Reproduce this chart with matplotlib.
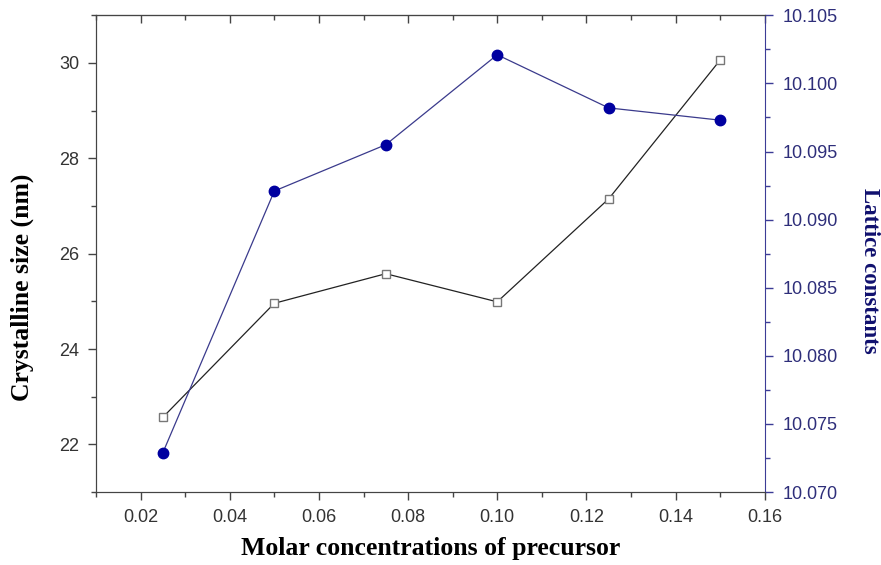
import matplotlib.pyplot as plt
from matplotlib.ticker import MultipleLocator, FormatStrFormatter

# data
conc = [0.025, 0.05, 0.075, 0.10, 0.125, 0.15]
cryst_size = [22.57, 24.96, 25.58, 24.99, 27.15, 30.06]
lattice = [10.0729, 10.0921, 10.0955, 10.1021, 10.0982, 10.0973]

blue = '#0000a0'
blue_axis = '#3c3c96'
tick_col = '#333333'

fig = plt.figure(figsize=(8.81, 5.65), dpi=100)
ax = fig.add_axes([0.109, 0.129, 0.759, 0.844])
ax2 = ax.twinx()

# crystalline size (left axis)
ax.plot(conc, cryst_size, color='#222222', lw=0.9, marker='s', ms=6,
        mfc='white', mec='#777777', mew=1.0, zorder=3)

# lattice constants (right axis)
ax2.plot(conc, lattice, color='#3a3a8c', lw=0.9, marker='o', ms=7.5,
         mfc=blue, mec=blue, zorder=3)

ax.set_xlim(0.01, 0.16)
ax.set_ylim(21, 31)
ax2.set_ylim(10.070, 10.105)

ax.xaxis.set_major_locator(MultipleLocator(0.02))
ax.xaxis.set_minor_locator(MultipleLocator(0.01))
ax.xaxis.set_major_formatter(FormatStrFormatter('%.2f'))
ax.yaxis.set_major_locator(MultipleLocator(2))
ax.yaxis.set_minor_locator(MultipleLocator(1))
ax2.yaxis.set_major_locator(MultipleLocator(0.005))
ax2.yaxis.set_minor_locator(MultipleLocator(0.0025))
ax2.yaxis.set_major_formatter(FormatStrFormatter('%.3f'))

tick_font = 'Liberation Sans'
ax.tick_params(axis='both', which='major', direction='out', length=6, width=1,
               color='#444444', labelsize=13, labelcolor=tick_col, pad=6)
ax.tick_params(axis='both', which='minor', direction='out', length=3.5, width=1,
               color='#444444')
ax2.tick_params(axis='y', which='major', direction='out', length=6, width=1,
                color=blue_axis, labelsize=13, labelcolor='#2e2e7a', pad=7)
ax2.tick_params(axis='y', which='minor', direction='out', length=3.5, width=1,
                color=blue_axis)
for lab in ax.get_xticklabels() + ax.get_yticklabels() + ax2.get_yticklabels():
    lab.set_fontfamily(tick_font)

# top spine ticks pointing inward
top = ax.secondary_xaxis('top')
top.xaxis.set_major_locator(MultipleLocator(0.02))
top.xaxis.set_minor_locator(MultipleLocator(0.01))
top.tick_params(which='major', direction='in', length=6, width=1, color='#444444',
                labeltop=False)
top.tick_params(which='minor', direction='in', length=3.5, width=1, color='#444444')
top.spines['top'].set_color('#444444')

for s in ['left', 'bottom', 'top']:
    ax.spines[s].set_color('#444444')
    ax2.spines[s].set_color('#444444')
ax2.spines['right'].set_color(blue_axis)
ax.spines['right'].set_visible(False)

ax.set_xlabel('Molar concentrations of precursor', fontfamily='Liberation Serif',
              fontweight='bold', fontsize=18.5, labelpad=8)
ax.set_ylabel('Crystalline size (nm)', fontfamily='Liberation Serif',
              fontweight='bold', fontsize=18.5, va='center')
ax.yaxis.set_label_coords(-0.11, 0.43)
ax2.set_ylabel('Lattice constants', fontfamily='Liberation Serif',
               fontweight='bold', fontsize=16.5, color='#10106e', rotation=270,
               va='center')
ax2.yaxis.set_label_coords(1.157, 0.465)

plt.savefig('out.png', dpi=100)
